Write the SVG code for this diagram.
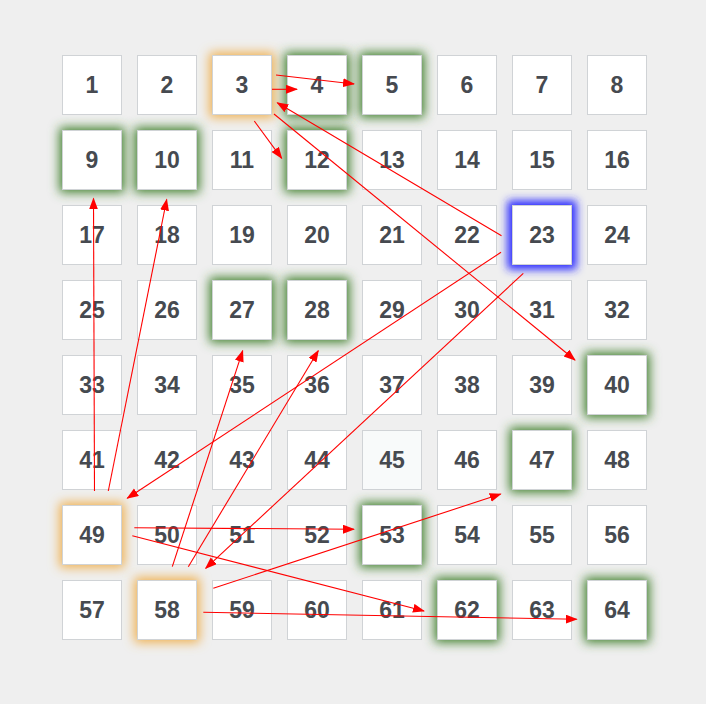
<svg xmlns="http://www.w3.org/2000/svg" width="706" height="704" viewBox="0 0 706 704">
<style>
.cell{fill:#ffffff;stroke:#d0d3d6;stroke-width:1}
.t{font-family:"Liberation Sans",Arial,sans-serif;font-weight:bold;font-size:23px;fill:#464a50;text-anchor:middle}
.gg{fill:#3f7f2c}
.go{fill:#f0b04e}
.gb{fill:#2a2aff}
.c line{stroke:#ff0000;stroke-width:1.1;fill:none}
</style>
<defs>
<filter id="blur" x="-50%" y="-50%" width="200%" height="200%"><feGaussianBlur stdDeviation="5.5"/></filter>
<filter id="blurb" x="-50%" y="-50%" width="200%" height="200%"><feGaussianBlur stdDeviation="4"/></filter>
<marker id="ah" markerUnits="userSpaceOnUse" markerWidth="12" markerHeight="10" refX="11" refY="4.5" orient="auto"><path d="M0,0 L12,4.5 L0,9 Z" fill="#ff0000"/></marker>
</defs>
<rect width="706" height="704" fill="#efefef"/>
<g id="n1"><rect class="cell" x="62.5" y="55.5" width="59" height="59"/><text class="t" x="92" y="93">1</text></g>
<g id="n2"><rect class="cell" x="137.5" y="55.5" width="59" height="59"/><text class="t" x="167" y="93">2</text></g>
<g id="n3"><rect class="go" x="209.5" y="52.5" width="65" height="65" filter="url(#blur)"/><rect class="cell" x="212.5" y="55.5" width="59" height="59"/><text class="t" x="242" y="93">3</text></g>
<g id="n4"><rect class="gg" x="284.5" y="52.5" width="65" height="65" filter="url(#blur)"/><rect class="cell" x="287.5" y="55.5" width="59" height="59"/><text class="t" x="317" y="93">4</text></g>
<g id="n5"><rect class="gg" x="359.5" y="52.5" width="65" height="65" filter="url(#blur)"/><rect class="cell" x="362.5" y="55.5" width="59" height="59"/><text class="t" x="392" y="93">5</text></g>
<g id="n6"><rect class="cell" x="437.5" y="55.5" width="59" height="59"/><text class="t" x="467" y="93">6</text></g>
<g id="n7"><rect class="cell" x="512.5" y="55.5" width="59" height="59"/><text class="t" x="542" y="93">7</text></g>
<g id="n8"><rect class="cell" x="587.5" y="55.5" width="59" height="59"/><text class="t" x="617" y="93">8</text></g>
<g id="n9"><rect class="gg" x="59.5" y="127.5" width="65" height="65" filter="url(#blur)"/><rect class="cell" x="62.5" y="130.5" width="59" height="59"/><text class="t" x="92" y="168">9</text></g>
<g id="n10"><rect class="gg" x="134.5" y="127.5" width="65" height="65" filter="url(#blur)"/><rect class="cell" x="137.5" y="130.5" width="59" height="59"/><text class="t" x="167" y="168">10</text></g>
<g id="n11"><rect class="cell" x="212.5" y="130.5" width="59" height="59"/><text class="t" x="242" y="168">11</text></g>
<g id="n12"><rect class="gg" x="284.5" y="127.5" width="65" height="65" filter="url(#blur)"/><rect class="cell" x="287.5" y="130.5" width="59" height="59"/><text class="t" x="317" y="168">12</text></g>
<g id="n13"><rect class="cell" x="362.5" y="130.5" width="59" height="59"/><text class="t" x="392" y="168">13</text></g>
<g id="n14"><rect class="cell" x="437.5" y="130.5" width="59" height="59"/><text class="t" x="467" y="168">14</text></g>
<g id="n15"><rect class="cell" x="512.5" y="130.5" width="59" height="59"/><text class="t" x="542" y="168">15</text></g>
<g id="n16"><rect class="cell" x="587.5" y="130.5" width="59" height="59"/><text class="t" x="617" y="168">16</text></g>
<g id="n17"><rect class="cell" x="62.5" y="205.5" width="59" height="59"/><text class="t" x="92" y="243">17</text></g>
<g id="n18"><rect class="cell" x="137.5" y="205.5" width="59" height="59"/><text class="t" x="167" y="243">18</text></g>
<g id="n19"><rect class="cell" x="212.5" y="205.5" width="59" height="59"/><text class="t" x="242" y="243">19</text></g>
<g id="n20"><rect class="cell" x="287.5" y="205.5" width="59" height="59"/><text class="t" x="317" y="243">20</text></g>
<g id="n21"><rect class="cell" x="362.5" y="205.5" width="59" height="59"/><text class="t" x="392" y="243">21</text></g>
<g id="n22"><rect class="cell" x="437.5" y="205.5" width="59" height="59"/><text class="t" x="467" y="243">22</text></g>
<g id="n23"><rect class="gb" x="507.5" y="200.5" width="69" height="69" filter="url(#blurb)"/><rect class="cell" x="512.5" y="205.5" width="59" height="59"/><text class="t" x="542" y="243">23</text></g>
<g id="n24"><rect class="cell" x="587.5" y="205.5" width="59" height="59"/><text class="t" x="617" y="243">24</text></g>
<g id="n25"><rect class="cell" x="62.5" y="280.5" width="59" height="59"/><text class="t" x="92" y="318">25</text></g>
<g id="n26"><rect class="cell" x="137.5" y="280.5" width="59" height="59"/><text class="t" x="167" y="318">26</text></g>
<g id="n27"><rect class="gg" x="209.5" y="277.5" width="65" height="65" filter="url(#blur)"/><rect class="cell" x="212.5" y="280.5" width="59" height="59"/><text class="t" x="242" y="318">27</text></g>
<g id="n28"><rect class="gg" x="284.5" y="277.5" width="65" height="65" filter="url(#blur)"/><rect class="cell" x="287.5" y="280.5" width="59" height="59"/><text class="t" x="317" y="318">28</text></g>
<g id="n29"><rect class="cell" x="362.5" y="280.5" width="59" height="59"/><text class="t" x="392" y="318">29</text></g>
<g id="n30"><rect class="cell" x="437.5" y="280.5" width="59" height="59"/><text class="t" x="467" y="318">30</text></g>
<g id="n31"><rect class="cell" x="512.5" y="280.5" width="59" height="59"/><text class="t" x="542" y="318">31</text></g>
<g id="n32"><rect class="cell" x="587.5" y="280.5" width="59" height="59"/><text class="t" x="617" y="318">32</text></g>
<g id="n33"><rect class="cell" x="62.5" y="355.5" width="59" height="59"/><text class="t" x="92" y="393">33</text></g>
<g id="n34"><rect class="cell" x="137.5" y="355.5" width="59" height="59"/><text class="t" x="167" y="393">34</text></g>
<g id="n35"><rect class="cell" x="212.5" y="355.5" width="59" height="59"/><text class="t" x="242" y="393">35</text></g>
<g id="n36"><rect class="cell" x="287.5" y="355.5" width="59" height="59"/><text class="t" x="317" y="393">36</text></g>
<g id="n37"><rect class="cell" x="362.5" y="355.5" width="59" height="59"/><text class="t" x="392" y="393">37</text></g>
<g id="n38"><rect class="cell" x="437.5" y="355.5" width="59" height="59"/><text class="t" x="467" y="393">38</text></g>
<g id="n39"><rect class="cell" x="512.5" y="355.5" width="59" height="59"/><text class="t" x="542" y="393">39</text></g>
<g id="n40"><rect class="gg" x="584.5" y="352.5" width="65" height="65" filter="url(#blur)"/><rect class="cell" x="587.5" y="355.5" width="59" height="59"/><text class="t" x="617" y="393">40</text></g>
<g id="n41"><rect class="cell" x="62.5" y="430.5" width="59" height="59"/><text class="t" x="92" y="468">41</text></g>
<g id="n42"><rect class="cell" x="137.5" y="430.5" width="59" height="59"/><text class="t" x="167" y="468">42</text></g>
<g id="n43"><rect class="cell" x="212.5" y="430.5" width="59" height="59"/><text class="t" x="242" y="468">43</text></g>
<g id="n44"><rect class="cell" x="287.5" y="430.5" width="59" height="59"/><text class="t" x="317" y="468">44</text></g>
<g id="n45"><rect class="cell" x="362.5" y="430.5" width="59" height="59" style="fill:#f8fafa"/><text class="t" x="392" y="468">45</text></g>
<g id="n46"><rect class="cell" x="437.5" y="430.5" width="59" height="59"/><text class="t" x="467" y="468">46</text></g>
<g id="n47"><rect class="gg" x="509.5" y="427.5" width="65" height="65" filter="url(#blur)"/><rect class="cell" x="512.5" y="430.5" width="59" height="59"/><text class="t" x="542" y="468">47</text></g>
<g id="n48"><rect class="cell" x="587.5" y="430.5" width="59" height="59"/><text class="t" x="617" y="468">48</text></g>
<g id="n49"><rect class="go" x="59.5" y="502.5" width="65" height="65" filter="url(#blur)"/><rect class="cell" x="62.5" y="505.5" width="59" height="59"/><text class="t" x="92" y="543">49</text></g>
<g id="n50"><rect class="cell" x="137.5" y="505.5" width="59" height="59"/><text class="t" x="167" y="543">50</text></g>
<g id="n51"><rect class="cell" x="212.5" y="505.5" width="59" height="59"/><text class="t" x="242" y="543">51</text></g>
<g id="n52"><rect class="cell" x="287.5" y="505.5" width="59" height="59"/><text class="t" x="317" y="543">52</text></g>
<g id="n53"><rect class="gg" x="359.5" y="502.5" width="65" height="65" filter="url(#blur)"/><rect class="cell" x="362.5" y="505.5" width="59" height="59"/><text class="t" x="392" y="543">53</text></g>
<g id="n54"><rect class="cell" x="437.5" y="505.5" width="59" height="59"/><text class="t" x="467" y="543">54</text></g>
<g id="n55"><rect class="cell" x="512.5" y="505.5" width="59" height="59"/><text class="t" x="542" y="543">55</text></g>
<g id="n56"><rect class="cell" x="587.5" y="505.5" width="59" height="59"/><text class="t" x="617" y="543">56</text></g>
<g id="n57"><rect class="cell" x="62.5" y="580.5" width="59" height="59"/><text class="t" x="92" y="618">57</text></g>
<g id="n58"><rect class="go" x="134.5" y="577.5" width="65" height="65" filter="url(#blur)"/><rect class="cell" x="137.5" y="580.5" width="59" height="59"/><text class="t" x="167" y="618">58</text></g>
<g id="n59"><rect class="cell" x="212.5" y="580.5" width="59" height="59"/><text class="t" x="242" y="618">59</text></g>
<g id="n60"><rect class="cell" x="287.5" y="580.5" width="59" height="59"/><text class="t" x="317" y="618">60</text></g>
<g id="n61"><rect class="cell" x="362.5" y="580.5" width="59" height="59"/><text class="t" x="392" y="618">61</text></g>
<g id="n62"><rect class="gg" x="434.5" y="577.5" width="65" height="65" filter="url(#blur)"/><rect class="cell" x="437.5" y="580.5" width="59" height="59"/><text class="t" x="467" y="618">62</text></g>
<g id="n63"><rect class="cell" x="512.5" y="580.5" width="59" height="59"/><text class="t" x="542" y="618">63</text></g>
<g id="n64"><rect class="gg" x="584.5" y="577.5" width="65" height="65" filter="url(#blur)"/><rect class="cell" x="587.5" y="580.5" width="59" height="59"/><text class="t" x="617" y="618">64</text></g>
<g id="connectors" class="c">
<line x1="276" y1="75" x2="354" y2="84" marker-end="url(#ah)"/>
<line x1="272" y1="89.3" x2="297" y2="89.3" marker-end="url(#ah)"/>
<line x1="254.3" y1="121" x2="281.7" y2="158.3" marker-end="url(#ah)"/>
<line x1="501.5" y1="235.7" x2="277.3" y2="102.7" marker-end="url(#ah)"/>
<line x1="274" y1="114" x2="575" y2="360" marker-end="url(#ah)"/>
<line x1="501" y1="252.3" x2="127.3" y2="498.3" marker-end="url(#ah)"/>
<line x1="523.3" y1="273.3" x2="205.7" y2="568.3" marker-end="url(#ah)"/>
<line x1="94.5" y1="491" x2="93.5" y2="198.5" marker-end="url(#ah)"/>
<line x1="108.3" y1="491" x2="166.7" y2="199.5" marker-end="url(#ah)"/>
<line x1="134.3" y1="527.7" x2="354" y2="529.3" marker-end="url(#ah)"/>
<line x1="132.3" y1="535.7" x2="424" y2="611" marker-end="url(#ah)"/>
<line x1="172.3" y1="566.7" x2="242.7" y2="350.7" marker-end="url(#ah)"/>
<line x1="188.3" y1="566.7" x2="318.3" y2="350.7" marker-end="url(#ah)"/>
<line x1="213.3" y1="588.3" x2="500.7" y2="494" marker-end="url(#ah)"/>
<line x1="203.3" y1="612.3" x2="576.7" y2="619.3" marker-end="url(#ah)"/>
</g>
</svg>
